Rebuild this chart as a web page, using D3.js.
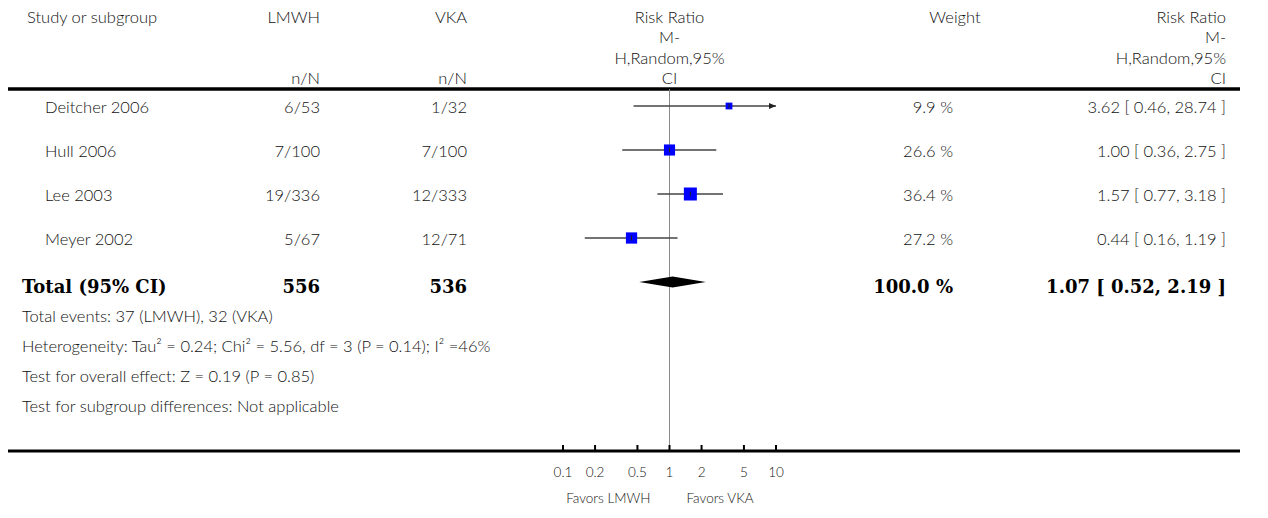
<!DOCTYPE html>
<html>
<head>
<meta charset="utf-8">
<script src="https://cdn.jsdelivr.net/npm/d3@7"></script>
<style>
  body { margin: 0; background: #fff; }
  text { font-family: Lato, "Open Sans", sans-serif; font-weight: 300; fill: #111; }
  .bold { font-family: "DejaVu Serif", "Liberation Serif", serif; font-weight: bold; fill: #000; }
</style>
</head>
<body>
<div id="chart-area"></div>
<script>
const width = 1268, height = 518;

// study rows
const studies = ["Deitcher 2006", "Hull 2006", "Lee 2003", "Meyer 2002"];
const lmwhEvents = ["6/53", "7/100", "19/336", "5/67"];
const vkaEvents = ["1/32", "7/100", "12/333", "12/71"];
const rr = [3.62, 1.00, 1.57, 0.44];
const rrLow = [0.46, 0.36, 0.77, 0.16];
const rrHigh = [28.74, 2.75, 3.18, 1.19];
const weights = [9.9, 26.6, 36.4, 27.2];

// pooled result
const totalLabel = "Total (95% CI)";
const totalN = [556, 536];
const totalRR = [1.07, 0.52, 2.19];
const totalWeight = 100.0;

const axisTicks = [0.1, 0.2, 0.5, 1, 2, 5, 10];
const footer = [
  "Total events: 37 (LMWH), 32 (VKA)",
  "Heterogeneity: Tau\u00B2 = 0.24; Chi\u00B2 = 5.56, df = 3 (P = 0.14); I\u00B2 =46%",
  "Test for overall effect: Z = 0.19 (P = 0.85)",
  "Test for subgroup differences: Not applicable"
];

const svg = d3.select("#chart-area").append("svg")
    .attr("width", width)
    .attr("height", height);

// scales
const x = d3.scaleLog().domain([0.1, 10]).range([563, 776]);
const y = d3.scaleLinear().domain([0, 1]).range([106, 150]);
const side = d3.scaleSqrt().domain([0, 36.4]).range([0, 13]);

const colStudy = 45, colA = 320, colB = 467, colW = 953, colRR = 1226;
const fs = 16.5;

// header
const hdr = svg.append("g").attr("font-size", fs);
hdr.append("text").attr("x", 27).attr("y", 23).text("Study or subgroup");
hdr.append("text").attr("x", colA).attr("y", 23).attr("text-anchor", "end").text("LMWH");
hdr.append("text").attr("x", colB).attr("y", 23).attr("text-anchor", "end").text("VKA");
hdr.append("text").attr("x", colA).attr("y", 84).attr("text-anchor", "end").text("n/N");
hdr.append("text").attr("x", colB).attr("y", 84).attr("text-anchor", "end").text("n/N");
hdr.append("text").attr("x", 955).attr("y", 23).attr("text-anchor", "middle").text("Weight");
const rrHead = ["Risk Ratio", "M-", "H,Random,95%", "CI"];
hdr.selectAll(".rh1").data(rrHead).enter().append("text")
    .attr("x", x(1)).attr("y", (d, i) => 23 + i * 20.3)
    .attr("text-anchor", "middle").text(d => d);
hdr.selectAll(".rh2").data(rrHead).enter().append("text")
    .attr("x", colRR).attr("y", (d, i) => 23 + i * 20.3)
    .attr("text-anchor", "end").text(d => d);

svg.append("line").attr("x1", 8).attr("x2", 1240).attr("y1", 89).attr("y2", 89)
    .attr("stroke", "#000").attr("stroke-width", 3.5);

// null line
svg.append("line").attr("x1", x(1)).attr("x2", x(1)).attr("y1", 89).attr("y2", 451)
    .attr("stroke", "#888").attr("stroke-width", 1);

// study text
const rows = svg.append("g").attr("font-size", fs);
const ty = i => y(i) + 7;
rows.selectAll(".s").data(studies).enter().append("text")
    .attr("x", colStudy).attr("y", (d, i) => ty(i)).text(d => d);
rows.selectAll(".a").data(lmwhEvents).enter().append("text")
    .attr("x", colA).attr("y", (d, i) => ty(i)).attr("text-anchor", "end").text(d => d);
rows.selectAll(".b").data(vkaEvents).enter().append("text")
    .attr("x", colB).attr("y", (d, i) => ty(i)).attr("text-anchor", "end").text(d => d);
rows.selectAll(".w").data(weights).enter().append("text")
    .attr("x", colW).attr("y", (d, i) => ty(i)).attr("text-anchor", "end").text(d => d.toFixed(1) + " %");
rows.selectAll(".r").data(rr).enter().append("text")
    .attr("x", colRR).attr("y", (d, i) => ty(i)).attr("text-anchor", "end")
    .text((d, i) => d.toFixed(2) + " [ " + rrLow[i].toFixed(2) + ", " + rrHigh[i].toFixed(2) + " ]");

// CI lines and boxes
const [xmin, xmax] = x.domain();
const marks = svg.append("g");
marks.selectAll(".ci").data(rr).enter().append("line")
    .attr("x1", (d, i) => x(Math.max(rrLow[i], xmin)))
    .attr("x2", (d, i) => x(Math.min(rrHigh[i], xmax)))
    .attr("y1", (d, i) => y(i)).attr("y2", (d, i) => y(i))
    .attr("stroke", "#444").attr("stroke-width", 1.4);
marks.selectAll(".arr").data(rr.map((d, i) => i).filter(i => rrHigh[i] > xmax)).enter().append("path")
    .attr("d", i => `M${x(xmax)},${y(i)} l-7,-3 l0,6 z`)
    .attr("fill", "#222");
marks.selectAll(".box").data(rr).enter().append("rect")
    .attr("x", (d, i) => x(d) - side(weights[i]) / 2)
    .attr("y", (d, i) => y(i) - side(weights[i]) / 2)
    .attr("width", (d, i) => side(weights[i]))
    .attr("height", (d, i) => side(weights[i]))
    .attr("fill", "#0000ff");
marks.selectAll(".pt").data(rr).enter().append("line")
    .attr("x1", d => x(d)).attr("x2", d => x(d))
    .attr("y1", (d, i) => y(i) - 2.5).attr("y2", (d, i) => y(i) + 2.5)
    .attr("stroke", "#222").attr("stroke-width", 1);

// total row
const yT = y(4);
svg.append("path")
    .attr("d", `M${x(totalRR[1])},${yT} L${x(totalRR[0])},${yT - 5.5} L${x(totalRR[2])},${yT} L${x(totalRR[0])},${yT + 5.5} Z`)
    .attr("fill", "#000");
const tot = svg.append("g").attr("font-size", 18);
const tY = yT + 11;
tot.append("text").attr("class", "bold").attr("x", 22).attr("y", tY).text(totalLabel);
tot.append("text").attr("class", "bold").attr("x", colA).attr("y", tY).attr("text-anchor", "end").text(totalN[0]);
tot.append("text").attr("class", "bold").attr("x", colB).attr("y", tY).attr("text-anchor", "end").text(totalN[1]);
tot.append("text").attr("class", "bold").attr("x", colW).attr("y", tY).attr("text-anchor", "end").text(totalWeight.toFixed(1) + " %");
tot.append("text").attr("class", "bold").attr("x", colRR).attr("y", tY).attr("text-anchor", "end")
    .text(totalRR[0].toFixed(2) + " [ " + totalRR[1].toFixed(2) + ", " + totalRR[2].toFixed(2) + " ]");

// footer notes
svg.append("g").attr("font-size", fs).selectAll("text").data(footer).enter().append("text")
    .attr("x", 22).attr("y", (d, i) => 322 + i * 30).text(d => d);

// axis
const axis = svg.append("g").attr("transform", "translate(0,451)");
axis.append("line").attr("x1", 8).attr("x2", 1240).attr("stroke", "#000").attr("stroke-width", 3);
axis.selectAll(".tk").data(axisTicks).enter().append("line")
    .attr("x1", d => x(d)).attr("x2", d => x(d)).attr("y1", 0).attr("y2", -6)
    .attr("stroke", "#000").attr("stroke-width", 2);
axis.selectAll(".tl").data(axisTicks).enter().append("text")
    .attr("x", d => x(d)).attr("y", 26).attr("text-anchor", "middle")
    .attr("font-size", 13.5).text(d => String(d));
axis.append("text").attr("x", x(1) - 19).attr("y", 52).attr("text-anchor", "end").attr("font-size", 13.5).text("Favors LMWH");
axis.append("text").attr("x", x(1) + 17).attr("y", 52).attr("font-size", 13.5).text("Favors VKA");
</script>
</body>
</html>
